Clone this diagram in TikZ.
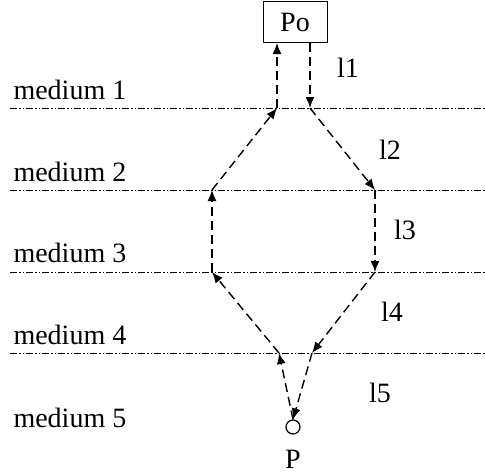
\documentclass[tikz,border=0pt]{standalone}
\usepackage{fontspec}
\setmainfont{Liberation Serif}
\usetikzlibrary{arrows.meta}
\begin{document}
\begin{tikzpicture}[x=1pt,y=-1pt,line join=round,>={Latex[length=11pt,width=9pt]},
	interface/.style={line width=1pt,dash pattern=on 7pt off 2pt on 1.5pt off 2pt on 1.5pt off 2pt},
	ray/.style={line width=1.4pt,dash pattern=on 9pt off 5pt,->},
	font=\fontsize{28}{32}\selectfont]
	\useasboundingbox (0,0) rectangle (485,474);
	\node[draw,line width=1pt,minimum width=64pt,minimum height=41pt,inner sep=0pt] (Po) at (295,22) {Po};
	\node[draw,circle,line width=1.2pt,minimum size=14pt,inner sep=0pt] (P) at (293,427) {};
	\node (Plabel) at (293,459) {P};
	\coordinate (R1) at (310,108);
	\coordinate (R2) at (375,190);
	\coordinate (R3) at (375,272);
	\coordinate (R4) at (312,353);
	\coordinate (L1) at (277,108);
	\coordinate (L2) at (212,190);
	\coordinate (L3) at (212,272);
	\coordinate (L4) at (279,353);
	\foreach \y in {108,190,272,353}{\draw[interface] (10,\y) -- (485,\y);}
	\foreach \y/\n in {90/1,172/2,253/3,335/4,418/5}{\node[anchor=west] (m\n) at (10,\y) {medium \n};}
	\foreach \x/\y/\n in {348/68/1,390/150/2,405/230/3,392/312/4,380/393/5}{\node (l\n) at (\x,\y) {l\n};}
	% ray going down
	\draw[ray] (Po.south -| R1) -- (R1);
	\draw[ray] (R1) -- (R2);
	\draw[ray] (R2) -- (R3);
	\draw[ray] (R3) -- (R4);
	\draw[ray] (R4) -- (P.north);
	% ray going back up
	\draw[ray] (P.north) -- (L4);
	\draw[ray] (L4) -- (L3);
	\draw[ray] (L3) -- (L2);
	\draw[ray] (L2) -- (L1);
	\draw[ray] (L1) -- (Po.south -| L1);
\end{tikzpicture}
\end{document}
